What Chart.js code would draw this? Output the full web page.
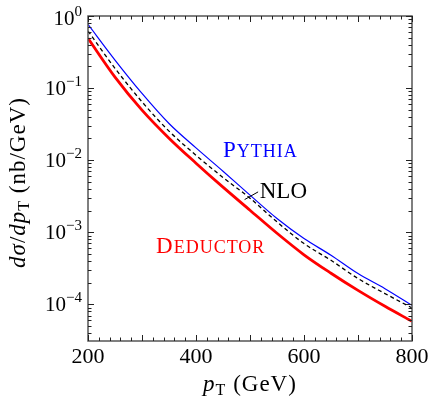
<!DOCTYPE html>
<html>
<head>
<meta charset="utf-8">
<script src="https://cdn.jsdelivr.net/npm/chart.js@4/dist/chart.umd.min.js"></script>
<style>
  html, body { margin: 0; padding: 0; background: #fff; }
  #wrap { width: 436px; height: 413px; }
</style>
</head>
<body>
<div id="wrap"><canvas id="chart" width="436" height="413"></canvas></div>
<script>
// Transverse momentum grid (GeV) and dsigma/dpT (nb/GeV)
const pT = [200, 250, 300, 350, 400, 450, 500, 550, 600, 650, 700, 750, 800];
const pythia = [0.767, 0.245, 0.0844, 0.0323, 0.0148, 0.00703, 0.00327, 0.00155, 8.17e-4, 4.80e-4, 2.67e-4, 1.65e-4, 9.68e-5];
const nlo = [0.619, 0.188, 0.0645, 0.0253, 0.0117, 0.00575, 0.00297, 0.00139, 6.97e-4, 4.08e-4, 2.28e-4, 1.41e-4, 8.93e-5];
const deductor = [0.490, 0.142, 0.0495, 0.0202, 0.00908, 0.00422, 0.00202, 9.68e-4, 4.87e-4, 2.70e-4, 1.56e-4, 9.38e-5, 5.81e-5];

const xTickLabels = [200, 400, 600, 800];
const yDecades = [0, -1, -2, -3, -4];
const yMin = 3.1e-5;
const yMax = 1;

const serif = '"Liberation Serif", "DejaVu Serif", serif';

function toPoints(ys) {
    return pT.map((x, i) => ({ x: x, y: ys[i] }));
}

// draw a run of text pieces [{t, font, dy}] starting at x, baseline y
function drawPieces(ctx, pieces, x, y) {
    pieces.forEach(p => {
        ctx.font = p.font;
        ctx.fillText(p.t, x, y + (p.dy || 0));
        x += ctx.measureText(p.t).width;
    });
    return x;
}

function piecesWidth(ctx, pieces) {
    let w = 0;
    pieces.forEach(p => {
        ctx.font = p.font;
        w += ctx.measureText(p.t).width;
    });
    return w;
}

function smallCaps(ctx, word, x, y, big, small, color) {
    ctx.fillStyle = color;
    ctx.letterSpacing = '1px';
    drawPieces(ctx, [
        { t: word[0], font: big + 'px ' + serif },
        { t: word.slice(1).toUpperCase(), font: small + 'px ' + serif }
    ], x, y);
    ctx.letterSpacing = '0px';
}

const decorations = {
    id: 'decorations',
    afterDraw(chart) {
        const ctx = chart.ctx;
        const { left, right, top, bottom } = chart.chartArea;
        const xs = chart.scales.x;
        const ys = chart.scales.y;
        ctx.save();

        // frame
        ctx.strokeStyle = '#555';
        ctx.lineWidth = 1.5;
        ctx.strokeRect(left, top, right - left, bottom - top);

        // inward ticks on all sides
        ctx.strokeStyle = '#222';
        ctx.lineWidth = 1;
        ctx.beginPath();
        for (let v = 200; v <= 800; v += 20) {
            const px = Math.round(xs.getPixelForValue(v)) + 0.5;
            const len = v % 100 === 0 ? 6 : 3.5;
            ctx.moveTo(px, bottom); ctx.lineTo(px, bottom - len);
            ctx.moveTo(px, top); ctx.lineTo(px, top + len);
        }
        for (let d = -5; d <= 0; d++) {
            for (let m = 1; m <= 9; m++) {
                const v = m * Math.pow(10, d);
                if (v < yMin || v > yMax) continue;
                const py = Math.round(ys.getPixelForValue(v)) + 0.5;
                const len = m === 1 ? 6 : 3.5;
                ctx.moveTo(left, py); ctx.lineTo(left + len, py);
                ctx.moveTo(right, py); ctx.lineTo(right - len, py);
            }
        }
        ctx.stroke();

        ctx.fillStyle = '#000';
        ctx.textBaseline = 'alphabetic';

        // x tick labels
        ctx.font = '22px ' + serif;
        ctx.textAlign = 'center';
        xTickLabels.forEach(v => {
            ctx.fillText(String(v), xs.getPixelForValue(v), bottom + 22);
        });

        // y tick labels 10^n
        ctx.textAlign = 'left';
        yDecades.forEach(d => {
            const py = ys.getPixelForValue(Math.pow(10, d));
            const pieces = [
                { t: '10', font: '21px ' + serif },
                { t: d === 0 ? '0' : '\u2212' + (-d), font: '15px ' + serif, dy: -9 }
            ];
            const w = piecesWidth(ctx, pieces);
            const base = d === 0 ? py + 9 : py + 7;
            drawPieces(ctx, pieces, left - 6 - w, base);
        });

        // axis titles, slightly spaced to mimic the wider TeX font
        ctx.letterSpacing = '1px';
        const it = 'italic 23px ' + serif;
        const rm = '23px ' + serif;
        const sub = '16px ' + serif;
        const xTitle = [
            { t: 'p', font: it },
            { t: 'T', font: sub, dy: 4 },
            { t: ' (GeV)', font: rm }
        ];
        const xw = piecesWidth(ctx, xTitle);
        drawPieces(ctx, xTitle, (left + right) / 2 - xw / 2, bottom + 50);

        const yTitle = [
            { t: 'd\u03c3', font: it },
            { t: '/', font: rm },
            { t: 'dp', font: it },
            { t: 'T', font: sub, dy: 4 },
            { t: ' (nb/GeV)', font: rm }
        ];
        const yw = piecesWidth(ctx, yTitle);
        ctx.save();
        ctx.translate(25, (top + bottom) / 2 + 4);
        ctx.rotate(-Math.PI / 2);
        drawPieces(ctx, yTitle, -yw / 2, 0);
        ctx.restore();
        ctx.letterSpacing = '0px';

        // curve labels
        smallCaps(ctx, 'Pythia', xs.getPixelForValue(450), ys.getPixelForValue(0.0110), 23, 18, '#0000ff');
        smallCaps(ctx, 'Deductor', xs.getPixelForValue(326), ys.getPixelForValue(5.1e-4), 23, 18, '#ff0000');

        ctx.fillStyle = '#000';
        ctx.font = '23px ' + serif;
        ctx.fillText('NLO', xs.getPixelForValue(518), ys.getPixelForValue(0.00297));
        ctx.strokeStyle = '#000';
        ctx.lineWidth = 1;
        ctx.beginPath();
        ctx.moveTo(xs.getPixelForValue(490), ys.getPixelForValue(0.00284));
        ctx.lineTo(xs.getPixelForValue(515), ys.getPixelForValue(0.00363));
        ctx.stroke();

        ctx.restore();
    }
};

const ctx = document.getElementById('chart').getContext('2d');
const chart = new Chart(ctx, {
    type: 'line',
    data: {
        datasets: [
            {
                label: 'Deductor',
                data: toPoints(deductor),
                borderColor: '#ff0000',
                borderWidth: 2.8,
                cubicInterpolationMode: 'monotone',
                fill: false
            },
            {
                label: 'NLO',
                data: toPoints(nlo),
                borderColor: '#000000',
                borderWidth: 1.3,
                borderDash: [4, 3],
                cubicInterpolationMode: 'monotone',
                fill: false
            },
            {
                label: 'Pythia',
                data: toPoints(pythia),
                borderColor: '#0000ff',
                borderWidth: 1.2,
                cubicInterpolationMode: 'monotone',
                fill: false
            }
        ]
    },
    options: {
        responsive: false,
        animation: false,
        layout: { padding: { left: 88, right: 24, top: 16, bottom: 72 } },
        plugins: {
            legend: { display: false },
            tooltip: { enabled: false }
        },
        elements: { point: { radius: 0 } },
        scales: {
            x: { type: 'linear', min: 200, max: 800, display: false },
            y: { type: 'logarithmic', min: yMin, max: yMax, display: false }
        }
    },
    plugins: [decorations]
});
</script>
</body>
</html>
